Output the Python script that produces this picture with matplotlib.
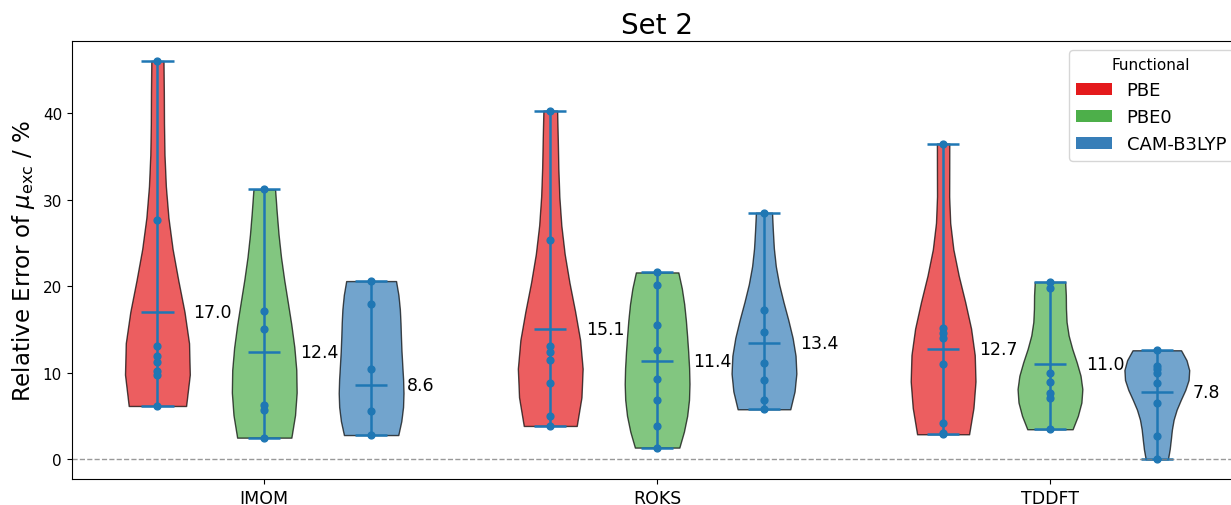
import numpy as np
import matplotlib
matplotlib.use("Agg")
import matplotlib.pyplot as plt
from matplotlib.patches import Patch

# --- datos ---
methods = ["IMOM", "ROKS", "TDDFT"]
functionals = ["PBE", "PBE0", "CAM-B3LYP"]
colors = ["#e41a1c", "#4daf4a", "#377eb8"]

imom_pbe = [46.05, 27.7, 13.1, 11.95, 11.25, 10.2, 9.8, 6.16]
imom_pbe0 = [31.2, 17.15, 15.1, 6.28, 5.7, 2.5]
imom_cam = [20.6, 18.0, 10.4, 5.6, 2.8]

roks_pbe = [40.3, 25.35, 13.1, 12.4, 11.5, 8.86, 5.0, 3.85]
roks_pbe0 = [21.6, 20.2, 15.5, 12.6, 9.25, 6.8, 3.8, 1.35]
roks_cam = [28.5, 17.26, 14.72, 11.18, 9.13, 6.86, 5.78]

tddft_pbe = [36.5, 15.2, 14.6, 14.07, 10.98, 4.16, 3.08, 2.89]
tddft_pbe0 = [20.5, 19.85, 10.02, 8.98, 7.71, 7.13, 3.47]
tddft_cam = [12.6, 10.79, 10.4, 10.02, 8.87, 6.55, 2.69, 0.0]

# medias mostradas en el grafico
means_pbe = [17.0, 15.1, 12.7]
means_pbe0 = [12.4, 11.4, 11.0]
means_cam = [8.6, 13.4, 7.8]

data = [
    [imom_pbe, roks_pbe, tddft_pbe],
    [imom_pbe0, roks_pbe0, tddft_pbe0],
    [imom_cam, roks_cam, tddft_cam],
]
means = [means_pbe, means_pbe0, means_cam]

line_color = "#1f77b4"
offset = 0.272
width = 0.165

fig = plt.figure(figsize=(12.31, 5.06), dpi=100)
ax = fig.add_axes([0.0583, 0.051, 1.0093 - 0.0583, 0.917 - 0.051])

for j in range(len(functionals)):
    for i in range(len(methods)):
        pos = i + (j - 1) * offset
        vals = data[j][i]
        parts = ax.violinplot([vals], positions=[pos], widths=width,
                              showmeans=False, showextrema=True, points=12)
        for body in parts["bodies"]:
            body.set_facecolor(colors[j])
            body.set_edgecolor("black")
            body.set_linewidth(1.0)
            body.set_alpha(0.7)
        for key in ["cbars", "cmins", "cmaxes"]:
            parts[key].set_color(line_color)
            parts[key].set_linewidth(1.8)
        ax.hlines(means[j][i], pos - width / 4, pos + width / 4,
                  color=line_color, linewidth=1.8)
        ax.scatter([pos] * len(vals), vals, color=line_color, s=24, zorder=3)
        ax.text(pos + 0.092, means[j][i], f"{means[j][i]:.1f}",
                ha="left", va="center", fontsize=12.5)

ax.axhline(0, color="gray", linestyle="--", linewidth=1, alpha=0.8)

ax.set_xlim(-0.49, 2.49)
ax.set_xticks(range(len(methods)))
ax.set_xticklabels(methods, fontsize=12.5)
ax.tick_params(axis="y", labelsize=11)
ax.set_ylabel(r"Relative Error of $\mu_{\mathrm{exc}}$ / %", fontsize=16.5)
ax.set_title("Set 2", fontsize=20)

handles = [Patch(facecolor=c, label=f) for c, f in zip(colors, functionals)]
ax.legend(handles=handles, title="Functional", loc="upper right",
          fontsize=13, title_fontsize=11)

fig.savefig("out.png", dpi=100)
